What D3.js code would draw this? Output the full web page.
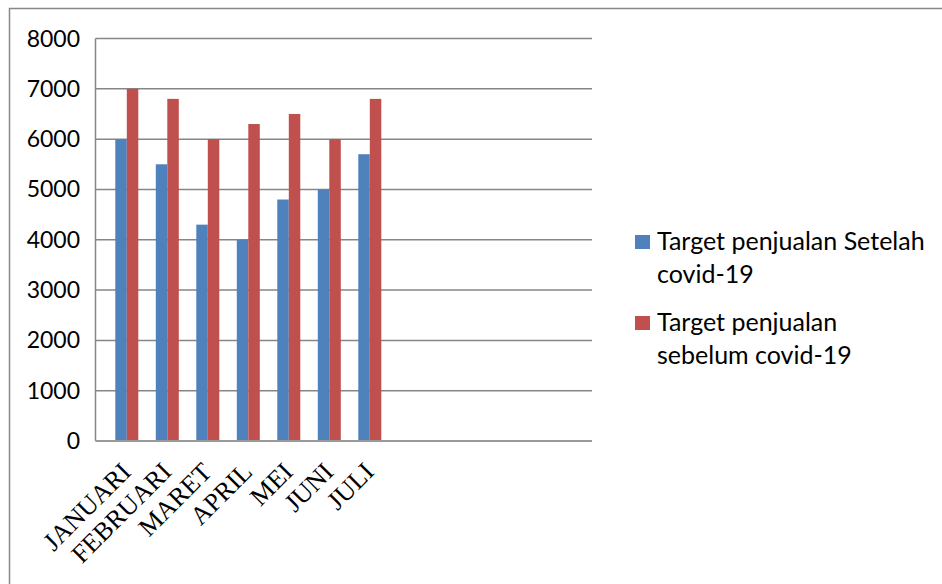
<!DOCTYPE html>
<html>
<head>
<meta charset="utf-8">
<script src="https://cdn.jsdelivr.net/npm/d3@7"></script>
<style>
  html, body { margin: 0; padding: 0; background: #fff; }
  svg { display: block; }
</style>
</head>
<body>
<svg id="chart" width="942" height="584"></svg>
<script>
// Monthly sales targets, before and after covid-19
const categories = ["JANUARI", "FEBRUARI", "MARET", "APRIL", "MEI", "JUNI", "JULI"];
const seriesNames = ["Target penjualan Setelah covid-19", "Target penjualan sebelum covid-19"];
const afterCovid = [6000, 5500, 4300, 4000, 4800, 5000, 5700];
const beforeCovid = [7000, 6800, 6000, 6300, 6500, 6000, 6800];
const yTicks = [0, 1000, 2000, 3000, 4000, 5000, 6000, 7000, 8000];
const legendLines = [["Target penjualan Setelah", "covid-19"], ["Target penjualan", "sebelum covid-19"]];

const colors = ["#4F81BD", "#C0504D"];
const seriesValues = [afterCovid, beforeCovid];

const svg = d3.select("#chart");

// outer frame
svg.append("rect")
  .attr("x", 9.5).attr("y", 8.5)
  .attr("width", 1000).attr("height", 1000)
  .attr("fill", "none").attr("stroke", "#888").attr("stroke-width", 1.5);

const plot = { left: 95.5, right: 592, top: 38.5, bottom: 441 };

const y = d3.scaleLinear().domain([0, 8000]).range([plot.bottom, plot.top]);

const x0 = d3.scaleBand()
  .domain(categories)
  .range([106.55, 390.05])
  .paddingInner(0.432)
  .paddingOuter(0.216);

const x1 = d3.scaleBand()
  .domain(d3.range(seriesNames.length))
  .range([0, x0.bandwidth()]);

// gridlines
svg.append("g")
  .selectAll("line")
  .data(yTicks.filter(d => d > 0))
  .join("line")
  .attr("x1", plot.left).attr("x2", plot.right)
  .attr("y1", d => y(d)).attr("y2", d => y(d))
  .attr("stroke", "#868686").attr("stroke-width", 1.5);

// y tick labels
svg.append("g")
  .selectAll("text")
  .data(yTicks)
  .join("text")
  .attr("x", 80).attr("y", d => y(d) + 8)
  .attr("text-anchor", "end")
  .attr("font-family", "Lato, 'Open Sans', sans-serif")
  .attr("font-size", 23)
  .attr("fill", "#000")
  .text(d => d);

// bars
const groups = svg.append("g")
  .selectAll("g")
  .data(categories)
  .join("g")
  .attr("transform", d => `translate(${x0(d)},0)`);

groups.selectAll("rect")
  .data((c, i) => seriesValues.map((vals, s) => ({ s, v: vals[i] })))
  .join("rect")
  .attr("x", d => x1(d.s))
  .attr("width", x1.bandwidth())
  .attr("y", d => y(d.v))
  .attr("height", d => y(0) - y(d.v))
  .attr("fill", d => colors[d.s]);

// axes lines
svg.append("line")
  .attr("x1", plot.left).attr("x2", plot.left)
  .attr("y1", plot.top).attr("y2", plot.bottom)
  .attr("stroke", "#868686").attr("stroke-width", 1.5);
svg.append("line")
  .attr("x1", plot.left).attr("x2", plot.right)
  .attr("y1", plot.bottom).attr("y2", plot.bottom)
  .attr("stroke", "#999").attr("stroke-width", 2);

// category labels, rotated
svg.append("g")
  .selectAll("text")
  .data(categories)
  .join("text")
  .attr("transform", d => `translate(${x0(d) + x0.bandwidth() / 2 + 5.5},473.5) rotate(-45)`)
  .attr("text-anchor", "end")
  .attr("font-family", "'Liberation Serif', 'Times New Roman', serif")
  .attr("font-size", 26)
  .attr("fill", "#000")
  .text(d => d);

// legend
const legend = svg.append("g");
const legendTop = [235, 316];
seriesNames.forEach((name, i) => {
  const g = legend.append("g");
  g.append("rect")
    .attr("x", 635).attr("y", legendTop[i])
    .attr("width", 15).attr("height", 14)
    .attr("fill", colors[i]);
  g.append("text")
    .attr("font-family", "Lato, 'Open Sans', sans-serif")
    .attr("font-size", 25)
    .attr("fill", "#000")
    .selectAll("tspan")
    .data(legendLines[i])
    .join("tspan")
    .attr("x", 657)
    .attr("y", (d, j) => legendTop[i] + 15 + j * 32.5)
    .text(d => d);
});
</script>
</body>
</html>
